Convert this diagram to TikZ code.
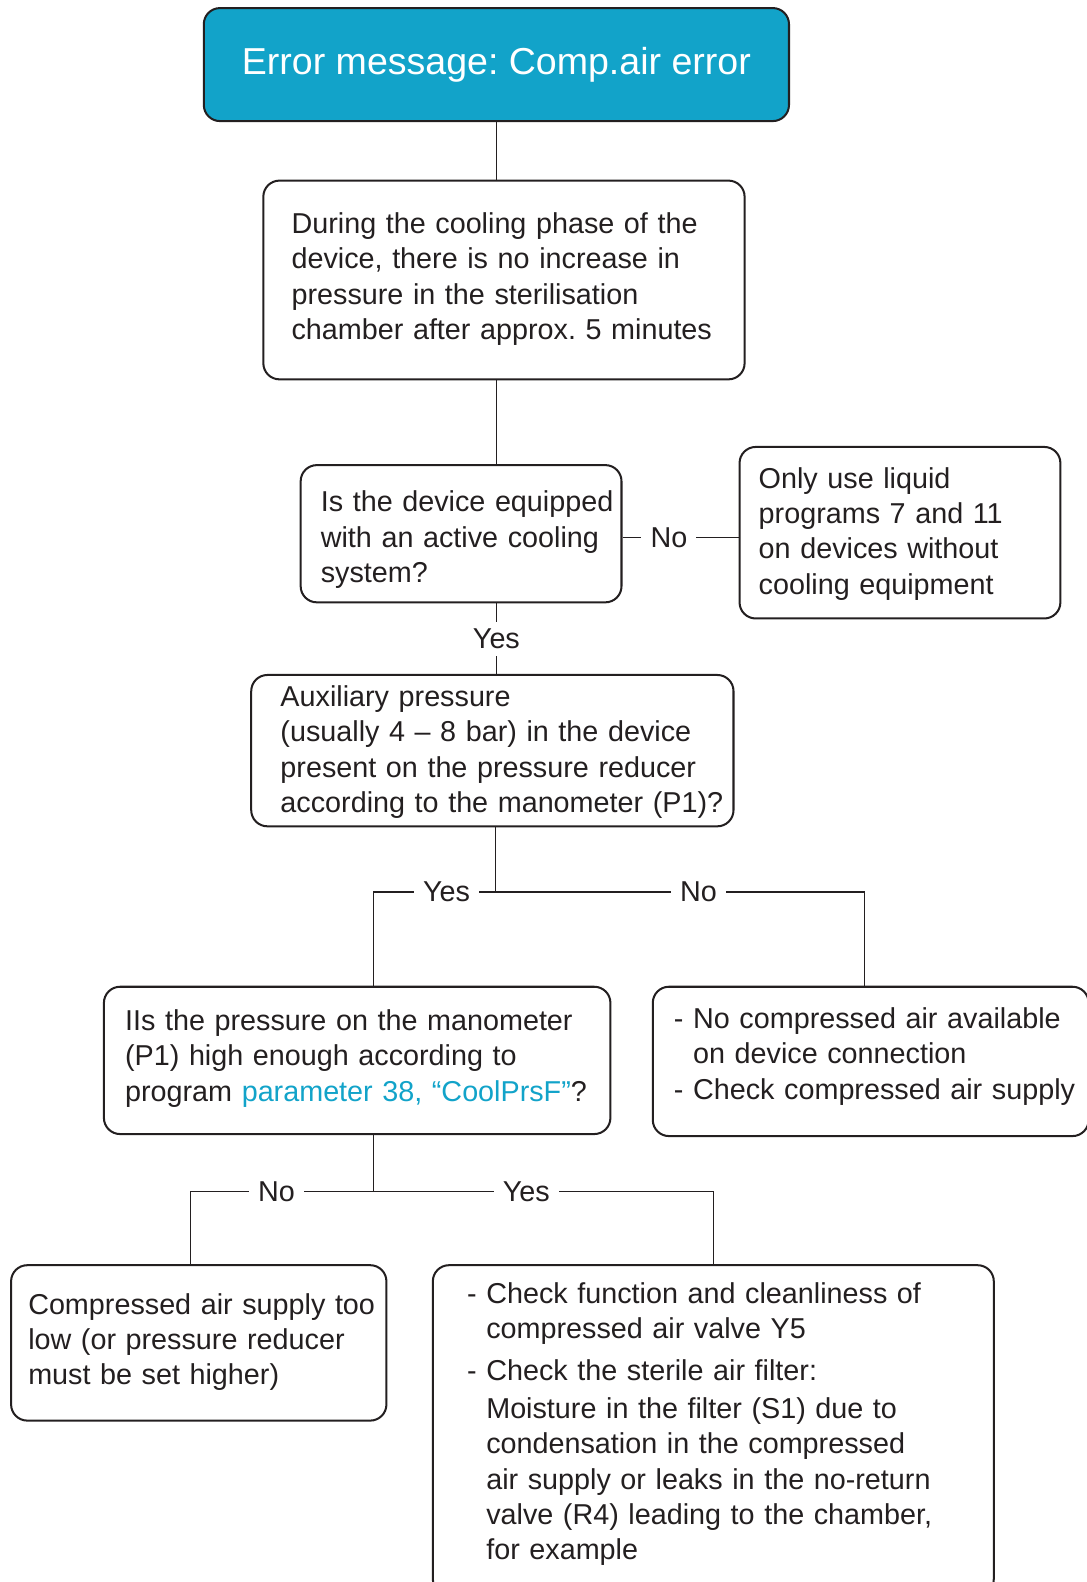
\documentclass[tikz,border=0pt]{standalone}
\usepackage{fontspec}
\setmainfont{Liberation Sans}
\usepackage{tikz}

\definecolor{errblue}{HTML}{12A3C9}
\definecolor{ink}{HTML}{231F20}
\newcommand{\boxfont}{\fontsize{14.25pt}{17.5pt}\selectfont}
\newcommand{\headfont}{\fontsize{18.6pt}{22pt}\selectfont}
\newcommand{\boxend}[1]{\endgraf\kern#1\relax}

\begin{document}
\frenchspacing
\begin{tikzpicture}[
  x=0.5pt, y=-0.5pt,
  box/.style={draw=ink, line width=1pt, rounded corners=8pt, anchor=north west,
    inner xsep=0pt, inner ysep=0pt, align=left, font=\boxfont, text=ink},
  dims/.style 2 args={minimum width=#1, text width=#1, minimum height=#2},
  lpad/.style={execute at begin node={\leftskip=#1}},
  bpad/.style={execute at end node={\boxend{#1}}},
  conn/.style={draw=ink, line width=0.7pt},
  lbl/.style={fill=white, font=\boxfont, text=ink, text depth=0pt, inner xsep=4.5pt, inner ysep=3.5pt},
]
  \useasboundingbox (0,0) rectangle (1077,1568);

  \node[draw=ink, line width=1pt, fill=errblue, rounded corners=8pt, anchor=north west,
    minimum width=290pt, minimum height=56pt, inner sep=0pt, font=\headfont, text=white]
    (err) at (201,7) {Error message: Comp.air error};

  \node[box, dims={238.5pt}{98.5pt}, lpad=14pt, bpad=1pt] (cool) at (260,178)
    {During the cooling phase of the\\ device, there is no increase in\\
     pressure in the sterilisation\\ chamber after approx. 5 minutes};
  \node[box, dims={159pt}{68pt}, lpad=10pt, bpad=-6pt] (active) at (297,460)
    {Is the device equipped\\ with an active cooling\\ system?};
  \node[box, dims={159pt}{85pt}, lpad=9.5pt, bpad=-1pt] (info) at (732,442)
    {Only use liquid\\ programs 7 and 11\\ on devices without\\ cooling equipment};
  \node[box, dims={239pt}{75pt}, lpad=14.5pt, bpad=-1.5pt] (aux) at (248,668)
    {Auxiliary pressure\\ (usually 4 – 8 bar) in the device\\
     present on the pressure reducer\\ according to the manometer (P1)?};
  \node[box, dims={251pt}{73pt}, lpad=10.5pt, bpad=2pt] (diag) at (102,977)
    {IIs the pressure on the manometer\\ (P1) high enough according to\\
     program \textcolor{errblue}{parameter 38, “CoolPrsF”}?};
  \node[box, dims={216pt}{74pt}, lpad=10.5pt, bpad=5pt] (noair) at (646,977)
    {- No compressed air available\\ \phantom{- }on device connection\\
     - Check compressed air supply};
  \node[box, dims={186pt}{77pt}, lpad=8.5pt, bpad=1pt] (low) at (10,1253)
    {Compressed air supply too\\ low (or pressure reducer\\ must be set higher)};
  \node[box, dims={278pt}{163.5pt}, lpad=17pt, bpad=6pt] (check) at (428,1253)
    {- Check function and cleanliness of\\ \phantom{- }compressed air valve Y5\\[3pt]
     - Check the sterile air filter:\\[1.5pt]
     \phantom{- }Moisture in the filter (S1) due to\\
     \phantom{- }condensation in the compressed\\
     \phantom{- }air supply or leaks in the no-return\\
     \phantom{- }valve (R4) leading to the chamber,\\
     \phantom{- }for example};

  % branch points
  \coordinate (fork1) at (491,884);
  \coordinate (fork2) at (370,1181);
  \coordinate (noairin) at ([xshift=-3pt]noair.north);
  \coordinate (lowin) at ([xshift=-4pt]low.north);

  \draw[conn] (err.south) -- (err.south |- cool.north);
  \draw[conn] (cool.south -| err.south) -- (active.north -| err.south);
  \draw[conn] ([yshift=-2pt]active.east) -- node[lbl, pos=.4] {No} ([yshift=-2pt]active.east -| info.west);
  \draw[conn] (active.south -| err.south) -- node[lbl] {Yes} (aux.north -| err.south);

  \draw[conn] (aux.south -| fork1) -- (fork1);
  \draw[conn] (fork1) -- node[lbl, pos=.4] {Yes} (fork1 -| fork2) -- (diag.north -| fork2);
  \draw[conn] (fork1) -- node[lbl, pos=.55] {No} (fork1 -| noairin) -- (noairin);

  \draw[conn] (diag.south -| fork2) -- (fork2);
  \draw[conn] (fork2) -- node[lbl, pos=.53] {No} (fork2 -| lowin) -- (lowin);
  \draw[conn] (fork2) -- node[lbl, pos=.45] {Yes} (fork2 -| check.north) -- (check.north);
\end{tikzpicture}
\end{document}
